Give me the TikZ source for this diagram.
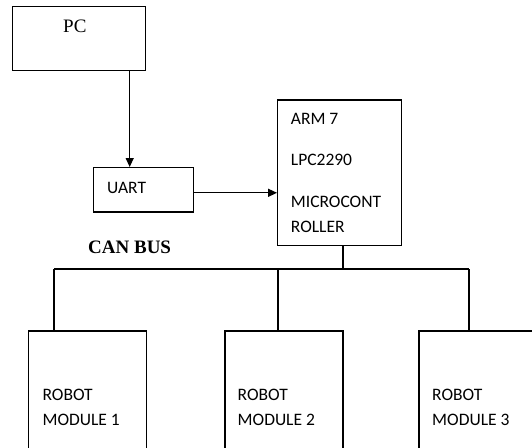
\documentclass[tikz,border=0pt]{standalone}
\usepackage{fontspec}
\setmainfont{Liberation Serif}
\newfontfamily\carlito{Carlito}
\usetikzlibrary{arrows.meta}

\begin{document}
\begin{tikzpicture}[x=1pt, y=-1pt,
  >={Triangle[length=9pt,width=8pt]},
  blk/.style={rectangle, draw=black, line width=1.3pt, inner sep=0pt},
  lbl/.style={anchor=base west, inner sep=0pt, align=left, font=\carlito\fontsize{17.5}{25.5}\selectfont},
  wire/.style={line width=1.3pt, black}]
\clip (0,0) rectangle (532,447);
% boxes
\node[blk, minimum width=133pt, minimum height=64pt] (pc) at (79.3,38.7) {};
\node[blk, minimum width=100pt, minimum height=44.3pt] (uart) at (143.3,189.8) {};
\node[blk, minimum width=124pt, minimum height=145.3pt] (arm) at (339.7,172.7) {};
\node[blk, minimum width=118pt, minimum height=129pt] (r1) at (87.5,395.5) {};
\node[blk, minimum width=118pt, minimum height=129pt] (r2) at (284,395.5) {};
\node[blk, minimum width=118pt, minimum height=129pt] (r3) at (478,395.5) {};
% texts (base = last line)
\node[anchor=base west, inner sep=0pt, font=\fontsize{19}{23}\selectfont] (pctxt) at (63,32) {PC};
\node[lbl] (uarttxt) at (107,193.3) {UART};
\node[lbl] (armtxt) at (290.7,232.7) {ARM 7\\[15.5pt]LPC2290\\[16.5pt]MICROCONT\\ROLLER};
\node[lbl] (r1txt) at (42.4,425.6) {ROBOT\\MODULE 1};
\node[lbl] (r2txt) at (237.5,425.6) {ROBOT\\MODULE 2};
\node[lbl] (r3txt) at (432,425.6) {ROBOT\\MODULE 3};
\node[anchor=base west, inner sep=0pt, font=\bfseries\fontsize{19}{23}\selectfont] (can) at (88,253) {CAN BUS};
% connectors
\coordinate (pcx) at ([xshift=50.4pt]pc.south);
\draw[wire,->] (pcx) -- (pcx |- uart.north);
\coordinate (ua) at ([yshift=-3pt]uart.east);
\draw[wire,->] (ua) -- (ua -| arm.west);
\coordinate (ax) at ([xshift=3.3pt]arm.south);
\coordinate (t1) at (54,269);
\coordinate (t2) at (278,269);
\coordinate (t3) at (469,269);
\draw[wire] (ax) -- (ax |- t1);
\draw[wire] (t1) -- (t3);
\foreach \t/\r in {t1/r1,t2/r2,t3/r3} \draw[wire] (\t) -- (\t |- \r.north);
\end{tikzpicture}
\end{document}
